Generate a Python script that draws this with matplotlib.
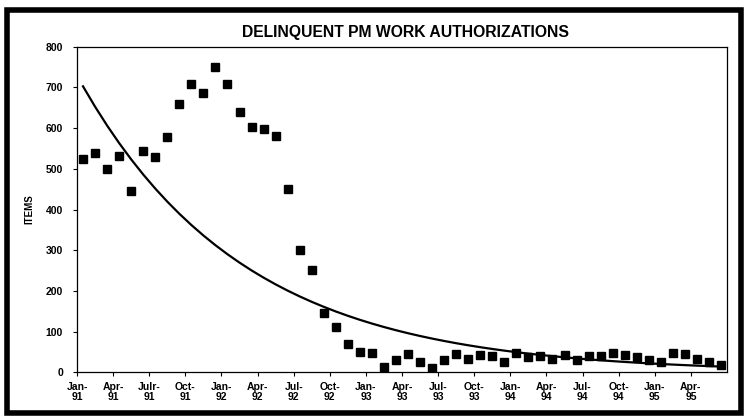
import numpy as np
import matplotlib
matplotlib.use('Agg')
import matplotlib.pyplot as plt
from matplotlib.patches import Rectangle

plt.rcParams['font.family'] = ['Liberation Sans', 'DejaVu Sans']

# Monthly delinquent PM work authorizations, Jan-91 .. Jun-95
items = [524, 538, 500, 531, 445, 544, 528, 579, 658, 708,
         687, 749, 709, 639, 602, 598, 581, 451, 300, 251,
         145, 112, 69, 50, 48, 12, 30, 46, 25, 10,
         30, 46, 33, 42, 41, 26, 48, 37, 41, 33,
         42, 29, 41, 40, 47, 42, 37, 29, 26, 47,
         44, 33, 26, 18]
quarter_labels = ['Jan-\n91', 'Apr-\n91', 'Julr-\n91', 'Oct-\n91',
                  'Jan-\n92', 'Apr-\n92', 'Jul-\n92', 'Oct-\n92',
                  'Jan-\n93', 'Apr-\n93', 'Jul-\n93', 'Oct-\n93',
                  'Jan-\n94', 'Apr-\n94', 'Jul-\n94', 'Oct-\n94',
                  'Jan-\n95', 'Apr-\n95']
y_ticks = [0, 100, 200, 300, 400, 500, 600, 700, 800]

n = len(items)
t = np.arange(1, n + 1)
x = t - 0.5  # points sit between the quarter ticks

# exponential trend line, fitted on log values
b, a = np.polyfit(t, np.log(items), 1)
trend = np.exp(a + b * t)

fig = plt.figure(figsize=(7.47, 4.18), dpi=100)
ax = fig.add_axes([77 / 747, 1 - 372.3 / 418, 650 / 747, 325.6 / 418])

ax.plot(x, trend, color='black', lw=1.6, zorder=2)
ax.plot(x, items, linestyle='none', marker='s', ms=5.8, color='black', zorder=3)

ax.set_xlim(0, n)
ax.set_ylim(0, 800)
ax.set_yticks(y_ticks)
ax.set_xticks(np.arange(0, 3 * len(quarter_labels), 3))
ax.set_xticklabels(quarter_labels, fontsize=7.5, fontweight='bold', linespacing=1.05)
ax.tick_params(axis='y', labelsize=7.5, length=3, width=0.8, pad=7)
ax.tick_params(axis='x', length=3, width=0.8, pad=4)
for lbl in ax.get_yticklabels():
    lbl.set_fontweight('bold')
for sp in ax.spines.values():
    sp.set_linewidth(0.9)

ax.set_ylabel('ITEMS', fontsize=7, fontweight='bold', labelpad=8)
fig.text(405 / 747, 1 - 32 / 418, 'DELINQUENT PM WORK AUTHORIZATIONS',
         ha='center', va='center', fontsize=11.3, fontweight='bold')

# heavy page frame around the chart
fig.patches.append(Rectangle((7 / 747, 5 / 418), 734 / 747, 403 / 418,
                             transform=fig.transFigure, fill=False,
                             edgecolor='black', lw=4))

fig.savefig('out.png', dpi=100)
